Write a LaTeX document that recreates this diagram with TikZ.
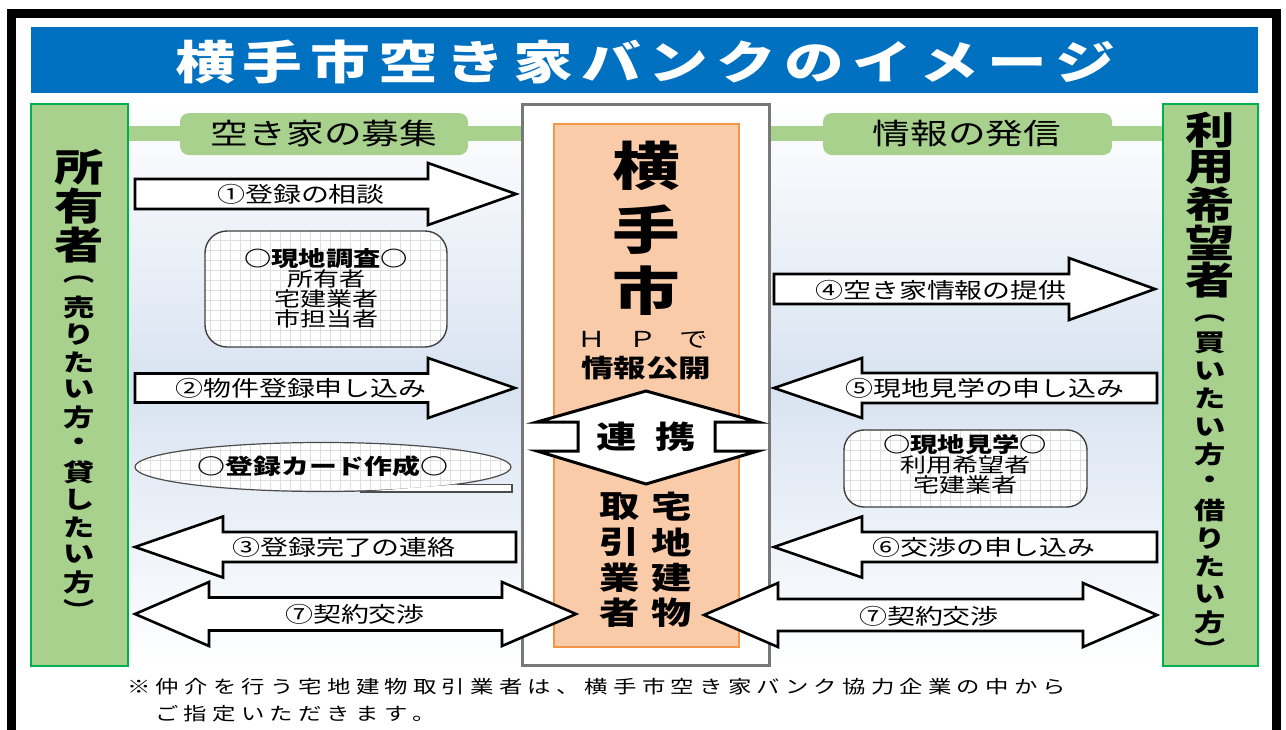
\documentclass[tikz,border=0pt]{standalone}
\usepackage{fontspec}
\setmainfont{Noto Sans CJK JP}[FakeStretch=1.3]
\definecolor{titleblue}{RGB}{0,112,192}
\definecolor{gfill}{RGB}{169,209,142}
\definecolor{gline}{RGB}{0,176,80}
\definecolor{ofill}{RGB}{250,203,168}
\definecolor{oline}{RGB}{243,150,72}
\definecolor{bgblue}{RGB}{216,227,241}
\definecolor{gridc}{RGB}{222,222,222}
\definecolor{boxgray}{RGB}{120,120,120}
\ExplSyntaxOn
\NewDocumentCommand\spread{mm}{\makebox[#1][s]{\tl_map_inline:nn{#2}{##1\hfil}\unskip}}
\ExplSyntaxOff
\newcommand\fsz[1]{\fontsize{#1pt}{#1pt}\selectfont}
\newcommand\RArrow[6]{\draw[barrow] ({#1},{#4-#5}) -- ({#2},{#4-#5}) -- ({#2},{#4-#6}) -- ({#3},{#4}) -- ({#2},{#4+#6}) -- ({#2},{#4+#5}) -- ({#1},{#4+#5}) -- cycle;}
\newcommand\LArrow[6]{\draw[barrow] ({#1},{#4}) -- ({#2},{#4-#6}) -- ({#2},{#4-#5}) -- ({#3},{#4-#5}) -- ({#3},{#4+#5}) -- ({#2},{#4+#5}) -- ({#2},{#4+#6}) -- cycle;}
\newcommand\DArrow[7]{\draw[barrow] ({#1},{#5}) -- ({#2},{#5-#7}) -- ({#2},{#5-#6}) -- ({#3},{#5-#6}) -- ({#3},{#5-#7}) -- ({#4},{#5}) -- ({#3},{#5+#7}) -- ({#3},{#5+#6}) -- ({#2},{#5+#6}) -- ({#2},{#5+#7}) -- cycle;}
\tikzset{
  barrow/.style={draw=black, fill=white, line width=2.6pt, line join=miter},
  lab/.style={inner sep=0pt, font=\fsz{21.5}},
  vbig/.style={inner sep=0pt, font=\bfseries\fsz{38}},
  vsmall/.style={inner sep=0pt, font=\bfseries\fsz{24}},
  boxtext/.style={inner sep=0pt, font=\fsz{20}, align=center},
  gridline/.style={draw=gridc, line width=0.6pt},
  roundbox/.style={draw=black!75, line width=1.4pt, rounded corners=22pt},
}
\begin{document}
\begin{tikzpicture}[x=1pt,y=-1pt]
\useasboundingbox (0,0) rectangle (1286,729);
\fill[white] (0,0) rectangle (1286,729);
% background gradient
\shade[top color=white, bottom color=white, middle color=bgblue] (128,104) rectangle (1162,666);
% outer frame
\draw[line width=9pt] (11,13) rectangle (1276,770);
% title
\fill[titleblue] (31,27) rectangle (1258,93);
\node[inner sep=0pt, text=white, font=\bfseries\fsz{46}] (title) at (645,62) {\spread{940pt}{横手市空き家バンクのイメージ}};
% green bands and labels
\fill[gfill] (128,126) rectangle (522,141);
\fill[gfill] (769,126) rectangle (1162,141);
\fill[gfill, rounded corners=9pt] (180,113) rectangle (468,155);
\fill[gfill, rounded corners=9pt] (823,113) rectangle (1112,155);
\node[inner sep=0pt, font=\fsz{29}] (boshu) at (324,134) {空き家の募集};
\node[inner sep=0pt, font=\fsz{29}] (hasshin) at (967,134) {情報の発信};
% side boxes
\draw[draw=gline, line width=2.5pt, fill=gfill] (31,104) rectangle (128,666);
\draw[draw=gline, line width=2.5pt, fill=gfill] (1163,104) rectangle (1258,666);
\foreach \c [count=\i] in {所,有,者} \node[vbig] (lb\i) at (79,{167+39*(\i-1)}) {\c};
\node[vsmall] (lop) at (79,280) {︵};
\foreach \c [count=\i] in {売,り,た,い,方,・,貸,し,た,い,方} \node[vsmall] (ls\i) at (79,{307+27.5*(\i-1)}) {\c};
\node[vsmall] (lcl) at (79,609) {︶};
\foreach \c [count=\i] in {利,用,希,望,者} \node[vbig] (rb\i) at (1210,{130+37.5*(\i-1)}) {\c};
\node[vsmall] (rop) at (1210,319) {︵};
\foreach \c [count=\i] in {買,い,た,い,方,・,借,り,た,い,方} \node[vsmall] (rs\i) at (1210,{343+27.9*(\i-1)}) {\c};
\node[vsmall] (rcl) at (1210,648) {︶};
% center boxes
\draw[draw=boxgray, line width=3pt, fill=white] (522,104) rectangle (769,665);
\draw[draw=oline, line width=2.5pt, fill=ofill] (554,124) rectangle (739,647);
\node[inner sep=0pt, font=\bfseries\fsz{52}] (c1) at (646,166) {横};
\node[inner sep=0pt, font=\bfseries\fsz{52}] (c2) at (646,230) {手};
\node[inner sep=0pt, font=\bfseries\fsz{52}] (c3) at (646,291) {市};
\node[inner sep=0pt, font=\fsz{22}] (hp) at (643,340) {\spread{131pt}{ＨＰで}};
\node[inner sep=0pt, font=\bfseries\fsz{25}] (koukai) at (646,368) {情報公開};
% renkei shape
\fill[white] (646,391) -- (758,422) -- (758,451) -- (646,484) -- (537,451) -- (537,422) -- cycle;
\draw[line width=3pt, line join=miter] (646,391) -- (537,422) -- (578,422) -- (578,451) -- (537,451) -- (646,484) -- (758,451) -- (715,451) -- (715,422) -- (758,422) -- cycle;
\node[inner sep=0pt, font=\bfseries\fsz{31}] (renkei) at (646,437) {\spread{100pt}{連携}};
\foreach \a/\b [count=\i] in {宅/取,地/引,建/業,物/者} {
  \node[inner sep=0pt, font=\bfseries\fsz{31}] (tr\i) at (672,{507+35.3*(\i-1)}) {\a};
  \node[inner sep=0pt, font=\bfseries\fsz{31}] (tl\i) at (620,{507+35.3*(\i-1)}) {\b};
}
% arrows left
\RArrow{135}{428}{516}{194}{15}{31}
\RArrow{135}{428}{515}{388}{14.5}{30}
\LArrow{135}{223}{516}{547}{15}{30.5}
\DArrow{135}{209}{502}{576}{614}{16.5}{32}
% arrows right
\RArrow{774}{1069}{1155}{289}{15}{31}
\LArrow{774}{862}{1157}{388}{15}{30}
\LArrow{774}{862}{1157}{547}{15}{30.5}
\DArrow{704}{778}{1083}{1157}{615}{16}{32}
\node[lab] (a1) at (301,194) {①登録の相談};
\node[lab] (a2) at (301,388) {②物件登録申し込み};
\node[lab] (a3) at (344,547) {③登録完了の連絡};
\node[lab] (a7l) at (355,614) {⑦契約交渉};
\node[lab] (a4) at (941,290) {④空き家情報の提供};
\node[lab] (a5) at (985,388) {⑤現地見学の申し込み};
\node[lab] (a6) at (984,547) {⑥交渉の申し込み};
\node[lab] (a7r) at (929,616) {⑦契約交渉};
% survey box
\begin{scope}
\clip[rounded corners=22pt] (205,231) rectangle (447,347);
\fill[white] (205,231) rectangle (447,347);
\draw[gridline, step=10pt] (200,226) grid (452,352);
\end{scope}
\draw[roundbox] (205,231) rectangle (447,347);
\node[boxtext] (survey) at (326,288) {{\bfseries\fsz{21}○現地調査○}\\所有者\\宅建業者\\市担当者};
% visit box
\begin{scope}
\clip[rounded corners=20pt] (844,430) rectangle (1087,507);
\fill[white] (844,430) rectangle (1087,507);
\draw[gridline, step=10pt] (840,425) grid (1092,512);
\end{scope}
\draw[roundbox, rounded corners=20pt] (844,430) rectangle (1087,507);
\node[boxtext] (visit) at (965,464) {{\bfseries\fsz{21}○現地見学○}\\利用希望者\\宅建業者};
% speech bubble
\begin{scope}
\clip (323,467) ellipse [x radius=188pt, y radius=24.5pt];
\fill[white] (130,440) rectangle (515,495);
\draw[gridline, step=10pt] (130,440) grid (515,495);
\end{scope}
\draw[draw=black!70, line width=1.2pt] (323,467) ellipse [x radius=188pt, y radius=24.5pt];
\fill[white] (456,484.5) -- (512,484.5) -- (512,492) -- (360,492) -- cycle;
\draw[draw=black!70, line width=1.2pt] (457,484.5) -- (512,484.5) -- (512,492) -- (360,492);
\node[inner sep=0pt, font=\bfseries\fsz{21.5}] (card) at (323,466) {○登録カード作成○};
% footer
\node[inner sep=0pt, anchor=west, font=\fsz{18}] (foot1) at (127,687) {\spread{939pt}{※仲介を行う宅地建物取引業者は、横手市空き家バンク協力企業の中から}};
\node[inner sep=0pt, anchor=west, font=\fsz{18}] (foot2) at (155,714) {\spread{281pt}{ご指定いただきます。}};
\end{tikzpicture}
\end{document}
